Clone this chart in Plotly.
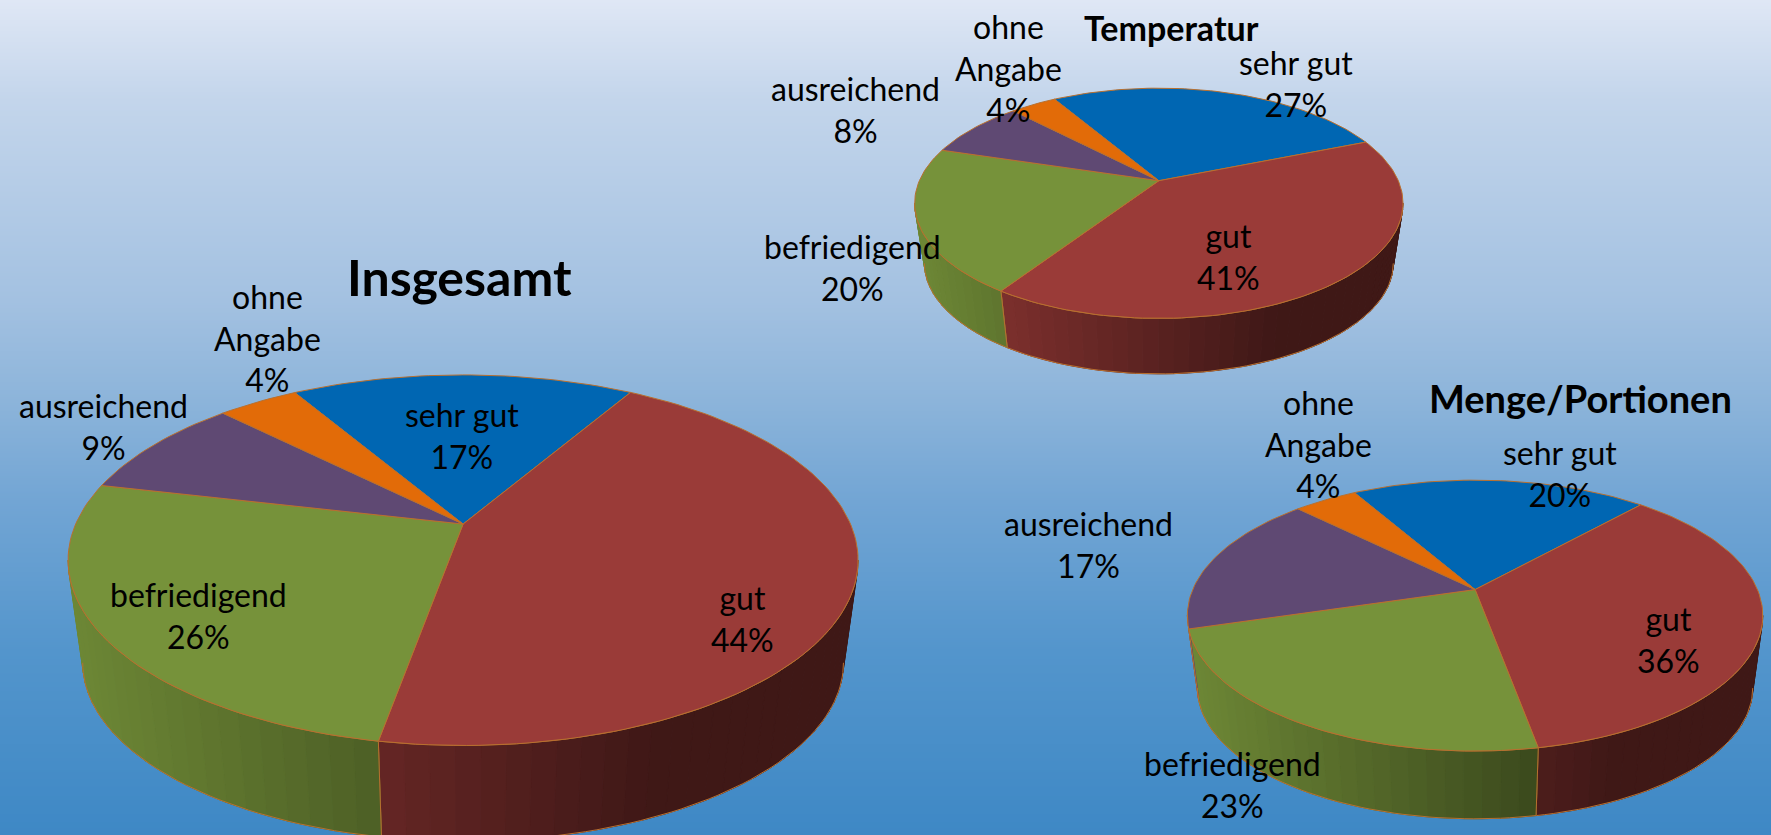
import math
import plotly.graph_objects as go

# ---------- data ----------
categories = ["sehr gut", "gut", "befriedigend", "ausreichend", "ohne Angabe"]
insgesamt_values = [16.9, 44.4, 25.8, 8.9, 4.0]
temperatur_values = [27.4, 40.4, 20.4, 8.1, 3.7]
menge_values = [20.0, 35.4, 23.3, 17.0, 4.3]
insgesamt_labels = [17, 44, 26, 9, 4]
temperatur_labels = [27, 41, 20, 8, 4]
menge_labels = [20, 36, 23, 17, 4]

# ---------- styling / layout ----------
W, H = 1771, 835
Z = 1771 / 1568
colors = {"sehr gut": (0, 102, 178), "gut": (154, 59, 56), "befriedigend": (118, 146, 58),
          "ausreichend": (95, 73, 115), "ohne Angabe": (226, 107, 8)}
EDGE = "#b9702f"
FONT = "Lato"
TEXT_SIZE = 32


def shade(t):
    return max(0.41, 0.93 - 0.70 * t)


pies = [
    dict(title="Insgesamt", values=insgesamt_values, labels=insgesamt_labels, start=-30.5,
         cx=410, cy=464, a=343, b=157.8, k=0.195, s=0.963, dy=92, title_xy=(407, 245), title_size=50,
         pos={"ohne Angabe": (237, 299), "ausreichend": (92, 378), "sehr gut": (409, 386),
              "gut": (657, 548), "befriedigend": (176, 545)}),
    dict(title="Temperatur", values=temperatur_values, labels=temperatur_labels, start=-30.6,
         cx=1026, cy=160, a=212, b=98, k=0.196, s=0.96, dy=54, title_xy=(1037, 24), title_size=34,
         pos={"ohne Angabe": (893, 60), "ausreichend": (757, 97), "sehr gut": (1147, 74),
              "gut": (1088, 227), "befriedigend": (755, 237)}),
    dict(title="Menge/Portionen", values=menge_values, labels=menge_labels, start=-29.9,
         cx=1306, cy=522, a=250, b=115.5, k=0.192, s=0.965, dy=65, title_xy=(1399, 352), title_size=38,
         pos={"ohne Angabe": (1167, 393), "ausreichend": (964, 482), "sehr gut": (1381, 419),
              "gut": (1477, 566), "befriedigend": (1091, 695)}),
]


def project(deg, cx, cy, a, b, k):
    th = math.radians(deg)
    den = 1 + k * math.cos(th)
    return (cx + a * math.sin(th) / den, cy - b * math.cos(th) / den)


def arc(a0, a1, step=1.5):
    n = max(2, int(abs(a1 - a0) / step) + 1)
    return [a0 + (a1 - a0) * i / (n - 1) for i in range(n)]


fig = go.Figure()

# background gradient
grad_y = list(range(0, H + 1, 5))
stops = [(0, "#dfe7f5"), (0.12, "#c3d5eb"), (0.36, "#a3c1e1"), (0.48, "#8cb4da"),
         (0.60, "#72a5d4"), (0.78, "#5395cc"), (1, "#3e88c5")]
fig.add_trace(go.Heatmap(x=[0, W], y=grad_y, z=[[v, v] for v in grad_y], colorscale=[[p, c] for p, c in stops],
                         showscale=False, hoverinfo="skip", zsmooth="best"))

annotations = []
for pie in pies:
    cx, cy, a, b, k = pie["cx"] * Z, pie["cy"] * Z, pie["a"] * Z, pie["b"] * Z, pie["k"]
    s, dy = pie["s"], pie["dy"] * Z
    total = sum(pie["values"])
    left = cx - a / math.sqrt(1 - k * k)
    width = 2 * a / math.sqrt(1 - k * k)
    sil0 = math.degrees(math.acos(-k))
    sil1 = 360 - sil0

    def top(d):
        return project(d, cx, cy, a, b, k)

    def base(d):
        return project(d, cx, cy + dy, a * s, b * s, k)

    bounds = [pie["start"]]
    for v in pie["values"]:
        bounds.append(bounds[-1] + v / total * 360)

    # extruded side, drawn as shaded strips
    for name, a0, a1 in zip(categories, bounds[:-1], bounds[1:]):
        lo, hi = max(a0, sil0), min(a1, sil1)
        if hi <= lo:
            continue
        angles = arc(lo, hi, 3)
        for d0, d1 in zip(angles[:-1], angles[1:]):
            p = [top(d0), top(d1), base(d1), base(d0), top(d0)]
            t = (top((d0 + d1) / 2)[0] - left) / width
            f = shade(t)
            col = "rgb(%d,%d,%d)" % tuple(int(c * f) for c in colors[name])
            fig.add_trace(go.Scatter(x=[q[0] for q in p], y=[q[1] for q in p], mode="lines", fill="toself",
                                     fillcolor=col, line=dict(color=col, width=1), hoverinfo="skip",
                                     showlegend=False, name=name))
        edge = [top(lo)] if lo > sil0 else []
        edge = [top(d) for d in arc(lo, hi)]
        outline = [base(d) for d in arc(lo, hi)]
        ex = [q[0] for q in edge] + [None] + [q[0] for q in outline]
        ey = [q[1] for q in edge] + [None] + [q[1] for q in outline]
        if lo > sil0:
            ex += [None, top(lo)[0], base(lo)[0]]
            ey += [None, top(lo)[1], base(lo)[1]]
        if hi < sil1:
            ex += [None, top(hi)[0], base(hi)[0]]
            ey += [None, top(hi)[1], base(hi)[1]]
        fig.add_trace(go.Scatter(x=ex, y=ey, mode="lines", line=dict(color=EDGE, width=1), hoverinfo="skip",
                                 showlegend=False, name=name))

    # top face
    for name, a0, a1 in zip(categories, bounds[:-1], bounds[1:]):
        pts = [(cx, cy)] + [top(d) for d in arc(a0, a1)] + [(cx, cy)]
        col = "rgb(%d,%d,%d)" % colors[name]
        fig.add_trace(go.Scatter(x=[q[0] for q in pts], y=[q[1] for q in pts], mode="lines", fill="toself",
                                 fillcolor=col, line=dict(color=EDGE, width=1), hoverinfo="skip",
                                 showlegend=False, name=name))

    # labels
    for name, lab in zip(categories, pie["labels"]):
        x, y = pie["pos"][name]
        txt = name.replace(" ", "<br>") if name == "ohne Angabe" else name
        annotations.append(dict(x=x * Z, y=y * Z, text=f"{txt}<br>{lab}%", showarrow=False, xanchor="center",
                                yanchor="middle", align="center",
                                font=dict(family=FONT, size=TEXT_SIZE, color="black")))
    annotations.append(dict(x=pie["title_xy"][0] * Z, y=pie["title_xy"][1] * Z, text=f"<b>{pie['title']}</b>",
                            showarrow=False, xanchor="center", yanchor="middle",
                            font=dict(family=FONT, size=pie["title_size"], color="black")))

fig.update_layout(width=W, height=H, margin=dict(l=0, r=0, t=0, b=0), showlegend=False,
                  plot_bgcolor="#8cb4da", paper_bgcolor="#8cb4da", annotations=annotations,
                  xaxis=dict(range=[0, W], visible=False, fixedrange=True),
                  yaxis=dict(range=[H, 0], visible=False, fixedrange=True))
fig.write_html("out.html", config={"displayModeBar": False},
               post_script="document.body.style.margin='0';document.body.style.overflow='hidden';")
